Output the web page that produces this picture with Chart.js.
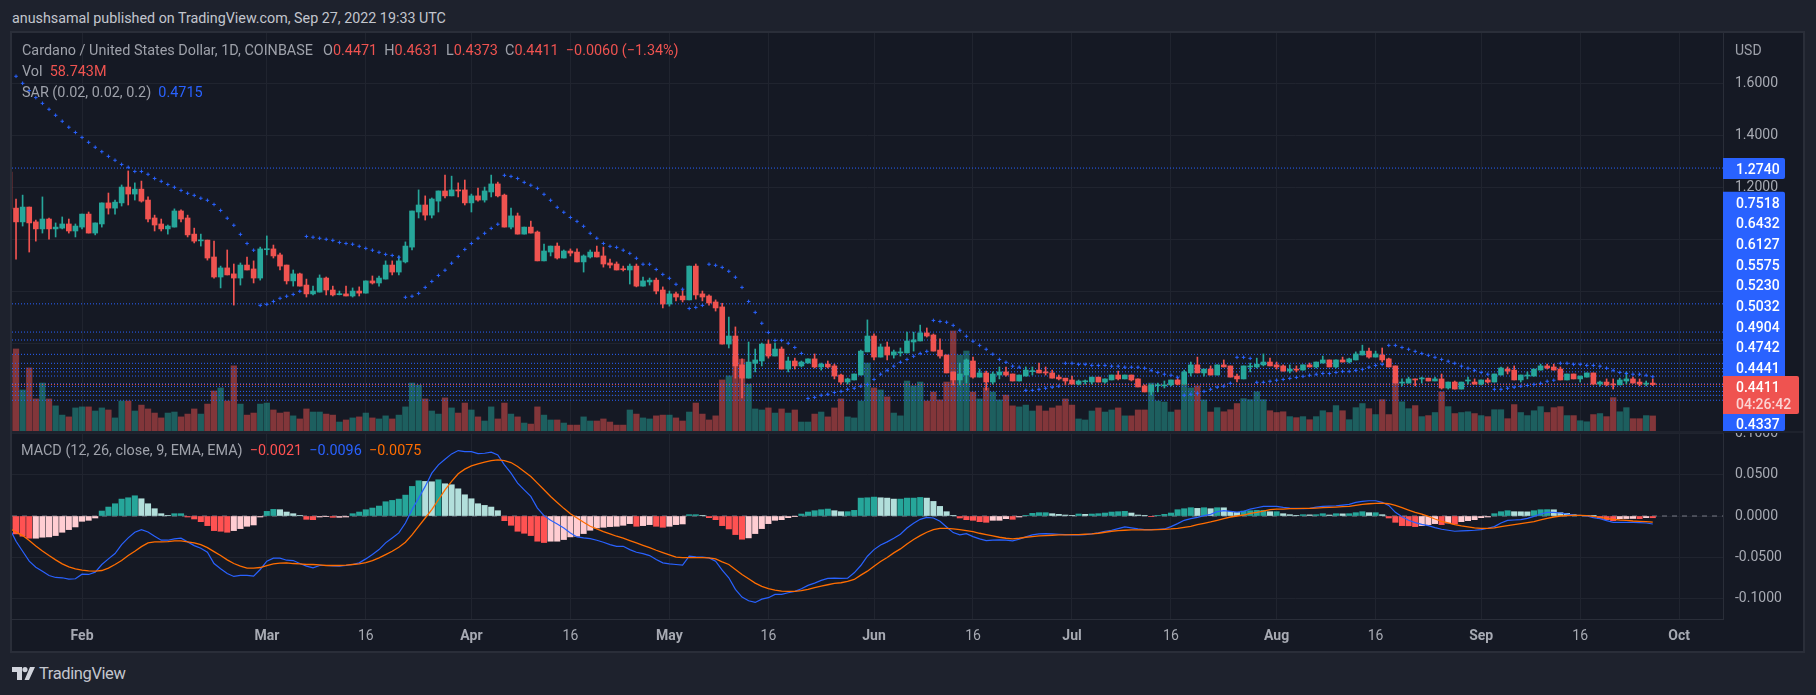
<!DOCTYPE html>
<html>
<head>
<meta charset="utf-8">
<title>Cardano / United States Dollar</title>
<script src="https://cdn.jsdelivr.net/npm/chart.js@4/dist/chart.umd.min.js"></script>
<style>
    html, body { margin: 0; padding: 0; width: 1816px; height: 695px; overflow: hidden; background: #1e222d; }
    body { font-family: Roboto, sans-serif; color: #b2b5be; position: relative; }
    .abs { position: absolute; white-space: nowrap; }
    .pane { position: absolute; left: 12px; width: 1792px; background: #151924; }
    canvas { display: block; }
    #frame { left: 10px; top: 31px; width: 1791px; height: 618px; border: 2px solid #2a2e39; }
    .legend { font-size: 14.4px; line-height: 16px; color: #9ea1aa; }
    .up { color: #ef5350; }
</style>
</head>
<body>
<div class="abs" style="left:12px;top:10px;font-size:14.3px;line-height:17px;color:#c3c6cd">anushsamal published on TradingView.com, Sep 27, 2022 19:33 UTC</div>
<div class="pane" style="top:33px;height:398px"><canvas id="priceChart" width="1792" height="398"></canvas></div>
<div class="pane" style="top:433px;height:219px"><canvas id="macdChart" width="1792" height="219"></canvas></div>
<div class="abs" id="frame"></div>

<div class="abs legend" style="left:22px;top:43px">Cardano / United States Dollar, 1D, COINBASE &nbsp;&thinsp;O<span class="up">0.4471</span> &nbsp;H<span class="up">0.4631</span> &nbsp;L<span class="up">0.4373</span> &nbsp;C<span class="up">0.4411</span> &nbsp;<span class="up">−0.0060 (−1.34%)</span></div>
<div class="abs legend" style="left:22px;top:64px">Vol &nbsp;<span class="up">58.743M</span></div>
<div class="abs legend" style="left:22px;top:85px">SAR (0.02, 0.02, 0.2) &nbsp;<span style="color:#2962ff">0.4715</span></div>
<div class="abs legend" style="left:21px;top:443px">MACD (12, 26, close, 9, EMA, EMA) &nbsp;<span style="color:#ff5252">−0.0021</span> &nbsp;<span style="color:#2962ff">−0.0096</span> &nbsp;<span style="color:#ff6d00">−0.0075</span></div>
<div class="abs" style="left:1735px;top:42px;font-size:14px;line-height:16px;color:#9ea1aa">USD</div>

<svg class="abs" style="left:12px;top:667px" width="24" height="13" viewBox="0 0 24 13">
    <path d="M0 0h10v13H5V5H0z M13 0a2.6 2.6 0 1 1 0 5.2a2.6 2.6 0 0 1 0-5.2z M17 13h-4.5L18 0h5z" fill="#d1d4dc"/>
</svg>
<div class="abs" style="left:39px;top:664px;font-size:16.5px;line-height:20px;color:#c3c6cd;letter-spacing:-0.4px">TradingView</div>

<script>
// 日线数据 Jan 21 - Sep 27
const opens = [
    1.259,1.120,1.067,1.124,1.067,1.040,1.078,1.040,1.043,1.059,
    1.032,1.047,1.097,1.024,1.059,1.140,1.120,1.140,1.201,1.174,
    1.193,1.151,1.082,1.059,1.040,1.047,1.109,1.082,1.020,0.994,
    0.997,0.932,0.855,0.890,0.867,0.851,0.901,0.886,0.851,0.960,
    0.963,0.940,0.901,0.840,0.867,0.824,0.790,0.797,0.851,0.805,
    0.787,0.790,0.782,0.801,0.793,0.840,0.832,0.847,0.901,0.874,
    0.913,0.970,1.105,1.132,1.093,1.147,1.186,1.167,1.190,1.190,
    1.140,1.167,1.151,1.182,1.213,1.170,1.047,1.090,1.020,1.047,
    1.028,0.917,0.951,0.974,0.928,0.955,0.951,0.913,0.932,0.951,
    0.936,0.909,0.905,0.886,0.882,0.897,0.820,0.836,0.843,0.805,
    0.751,0.790,0.782,0.767,0.897,0.790,0.782,0.759,0.740,0.597,
    0.628,0.517,0.466,0.523,0.532,0.597,0.551,0.578,0.501,0.532,
    0.513,0.524,0.540,0.509,0.520,0.513,0.478,0.451,0.459,0.478,
    0.567,0.628,0.547,0.586,0.555,0.563,0.563,0.605,0.609,0.640,
    0.632,0.574,0.555,0.490,0.459,0.478,0.532,0.470,0.486,0.451,
    0.478,0.490,0.482,0.455,0.474,0.491,0.497,0.490,0.486,0.470,
    0.466,0.459,0.443,0.452,0.451,0.470,0.451,0.459,0.478,0.463,
    0.478,0.463,0.436,0.413,0.437,0.436,0.440,0.459,0.443,0.486,
    0.517,0.486,0.501,0.478,0.517,0.513,0.474,0.463,0.509,0.509,
    0.517,0.528,0.517,0.513,0.493,0.501,0.497,0.517,0.509,0.524,
    0.536,0.509,0.536,0.528,0.536,0.555,0.570,0.547,0.555,0.540,
    0.513,0.447,0.447,0.463,0.463,0.466,0.455,0.463,0.428,0.451,
    0.424,0.455,0.451,0.443,0.459,0.451,0.478,0.501,0.497,0.459,
    0.474,0.474,0.497,0.513,0.509,0.501,0.459,0.482,0.463,0.470,
    0.486,0.443,0.451,0.443,0.440,0.455,0.463,0.451,0.443,0.4471
];
const highs = [
    1.259,1.155,1.170,1.124,1.074,1.163,1.082,1.063,1.086,1.078,
    1.059,1.097,1.105,1.063,1.140,1.178,1.151,1.209,1.263,1.217,
    1.224,1.163,1.093,1.078,1.055,1.117,1.113,1.093,1.043,1.020,
    0.997,0.993,0.897,0.959,0.905,0.909,0.932,0.917,0.970,1.013,
    0.978,0.947,0.901,0.882,0.870,0.847,0.820,0.863,0.855,0.820,
    0.801,0.820,0.813,0.817,0.840,0.859,0.859,0.917,0.917,0.936,
    0.990,1.109,1.190,1.167,1.159,1.186,1.247,1.243,1.217,1.228,
    1.174,1.197,1.201,1.247,1.220,1.174,1.120,1.101,1.047,1.070,
    1.032,0.982,0.974,0.986,0.959,0.963,0.963,0.940,0.959,0.974,
    0.970,0.924,0.913,0.897,0.905,0.905,0.855,0.851,0.851,0.817,
    0.801,0.797,0.805,0.897,0.905,0.801,0.786,0.767,0.754,0.701,
    0.663,0.540,0.605,0.578,0.601,0.613,0.601,0.586,0.547,0.543,
    0.532,0.540,0.559,0.524,0.532,0.520,0.482,0.466,0.482,0.574,
    0.690,0.636,0.597,0.605,0.574,0.582,0.643,0.643,0.670,0.659,
    0.636,0.617,0.555,0.490,0.524,0.540,0.547,0.501,0.493,0.490,
    0.509,0.509,0.482,0.478,0.509,0.509,0.524,0.509,0.497,0.478,
    0.466,0.474,0.459,0.459,0.470,0.470,0.463,0.478,0.493,0.478,
    0.478,0.463,0.440,0.440,0.447,0.455,0.459,0.466,0.497,0.528,
    0.547,0.501,0.513,0.517,0.536,0.513,0.482,0.513,0.524,0.543,
    0.559,0.543,0.528,0.517,0.517,0.513,0.517,0.524,0.528,0.551,
    0.536,0.536,0.547,0.543,0.567,0.593,0.582,0.570,0.582,0.543,
    0.513,0.463,0.470,0.463,0.470,0.466,0.470,0.482,0.451,0.455,
    0.451,0.470,0.463,0.459,0.466,0.482,0.509,0.509,0.513,0.478,
    0.490,0.501,0.520,0.520,0.520,0.509,0.482,0.482,0.474,0.486,
    0.486,0.455,0.463,0.463,0.466,0.490,0.470,0.463,0.455,0.4631
];
const lows = [
    1.117,0.924,1.051,0.951,0.993,1.024,1.001,1.009,1.040,1.024,
    1.009,1.040,1.024,1.017,1.047,1.097,1.097,1.128,1.132,1.151,
    1.143,1.067,1.032,1.032,1.020,1.047,1.067,1.009,0.986,0.974,
    0.920,0.851,0.813,0.863,0.747,0.824,0.882,0.832,0.843,0.940,
    0.928,0.882,0.828,0.820,0.820,0.778,0.786,0.797,0.786,0.782,
    0.786,0.782,0.778,0.782,0.793,0.828,0.820,0.847,0.863,0.863,
    0.909,0.959,1.082,1.074,1.082,1.105,1.159,1.167,1.163,1.132,
    1.105,1.147,1.143,1.163,1.163,1.047,1.040,1.020,1.020,1.024,
    0.917,0.917,0.936,0.924,0.928,0.936,0.913,0.874,0.928,0.932,
    0.893,0.890,0.882,0.878,0.828,0.817,0.820,0.824,0.790,0.736,
    0.743,0.763,0.759,0.767,0.770,0.763,0.747,0.724,0.597,0.582,
    0.466,0.390,0.466,0.490,0.513,0.543,0.551,0.501,0.490,0.501,
    0.509,0.524,0.505,0.497,0.505,0.463,0.443,0.443,0.459,0.478,
    0.567,0.536,0.547,0.536,0.543,0.551,0.563,0.570,0.609,0.624,
    0.570,0.543,0.486,0.440,0.440,0.447,0.466,0.470,0.420,0.443,
    0.463,0.474,0.455,0.455,0.474,0.478,0.486,0.478,0.466,0.459,
    0.440,0.443,0.440,0.443,0.443,0.451,0.447,0.459,0.459,0.463,
    0.455,0.432,0.413,0.401,0.413,0.428,0.436,0.440,0.443,0.474,
    0.486,0.474,0.478,0.478,0.509,0.470,0.451,0.463,0.490,0.505,
    0.513,0.513,0.501,0.493,0.486,0.490,0.497,0.509,0.505,0.524,
    0.509,0.505,0.528,0.524,0.536,0.555,0.543,0.547,0.528,0.509,
    0.447,0.436,0.447,0.436,0.447,0.455,0.455,0.424,0.424,0.424,
    0.424,0.443,0.443,0.440,0.447,0.451,0.478,0.482,0.459,0.451,
    0.463,0.474,0.497,0.501,0.497,0.459,0.459,0.463,0.451,0.470,
    0.440,0.436,0.436,0.424,0.440,0.443,0.447,0.436,0.436,0.4373
];
const closes = [
    1.117,1.067,1.124,1.063,1.040,1.078,1.040,1.047,1.059,1.032,
    1.051,1.097,1.024,1.063,1.140,1.120,1.143,1.201,1.174,1.193,
    1.147,1.078,1.055,1.040,1.051,1.109,1.078,1.017,0.993,0.997,
    0.928,0.855,0.890,0.863,0.851,0.901,0.882,0.851,0.963,0.963,
    0.936,0.897,0.840,0.867,0.820,0.790,0.801,0.851,0.805,0.786,
    0.790,0.782,0.801,0.793,0.840,0.832,0.851,0.901,0.874,0.917,
    0.974,1.109,1.132,1.093,1.155,1.186,1.167,1.190,1.186,1.140,
    1.167,1.151,1.186,1.213,1.167,1.047,1.090,1.020,1.047,1.024,
    0.917,0.955,0.974,0.928,0.955,0.947,0.913,0.936,0.951,0.932,
    0.905,0.901,0.882,0.883,0.897,0.820,0.840,0.843,0.801,0.751,
    0.790,0.778,0.767,0.897,0.786,0.778,0.755,0.736,0.597,0.628,
    0.513,0.466,0.528,0.536,0.597,0.551,0.578,0.501,0.532,0.513,
    0.528,0.540,0.509,0.520,0.509,0.474,0.451,0.463,0.482,0.570,
    0.628,0.547,0.586,0.555,0.567,0.567,0.609,0.613,0.640,0.628,
    0.570,0.551,0.486,0.459,0.482,0.536,0.470,0.486,0.451,0.482,
    0.490,0.478,0.455,0.478,0.497,0.493,0.486,0.486,0.466,0.463,
    0.455,0.443,0.455,0.455,0.470,0.451,0.463,0.478,0.463,0.478,
    0.459,0.432,0.413,0.440,0.440,0.440,0.459,0.443,0.490,0.517,
    0.486,0.501,0.478,0.517,0.509,0.470,0.463,0.513,0.513,0.520,
    0.528,0.513,0.509,0.493,0.501,0.497,0.517,0.509,0.528,0.536,
    0.509,0.536,0.528,0.540,0.559,0.570,0.547,0.559,0.536,0.509,
    0.447,0.451,0.463,0.459,0.466,0.455,0.463,0.428,0.451,0.424,
    0.451,0.459,0.443,0.459,0.451,0.482,0.505,0.493,0.459,0.478,
    0.478,0.501,0.513,0.505,0.497,0.459,0.482,0.463,0.474,0.486,
    0.443,0.451,0.440,0.440,0.459,0.463,0.447,0.443,0.447,0.4411
];
// 成交量 (百万)
const volumes = [
    300,320,160,246,125,187,125,98,62,55,
    90,94,94,78,90,82,51,117,117,78,
    101,86,70,51,70,74,55,66,86,66,
    105,156,168,117,254,105,62,70,105,109,
    82,70,74,59,47,86,74,74,66,62,
    35,43,51,55,70,51,47,59,47,62,
    94,187,179,125,78,66,129,90,70,109,
    82,55,39,94,47,109,66,55,31,27,
    94,62,43,43,31,23,23,55,39,39,
    47,35,23,23,82,66,51,47,59,62,
    62,51,39,74,109,66,43,59,199,215,
    290,280,183,86,82,90,70,86,70,82,
    35,35,66,74,55,90,125,55,51,117,
    265,168,160,133,70,59,195,176,191,117,
    152,121,191,390,296,312,152,125,168,152,
    121,140,98,94,101,78,98,78,90,98,
    125,101,47,43,78,90,74,82,90,59,
    59,82,82,187,117,113,74,82,183,168,
    176,121,74,91,75,83,107,126,122,153,
    122,79,72,75,56,52,56,44,56,79,
    72,99,79,44,91,107,87,64,122,64,
    200,114,87,99,56,60,72,153,95,68,
    72,75,68,60,56,83,83,48,103,72,
    60,79,95,72,91,95,60,60,40,36,
    64,68,56,130,75,91,48,48,60,58.743
];
const sar = [
    1.654,1.627,1.600,1.572,1.545,1.523,1.500,1.477,1.454,1.431,
    1.411,1.392,1.373,1.354,1.337,1.319,1.304,1.288,1.277,1.261,
    1.261,1.250,1.234,1.223,1.211,1.200,1.188,1.177,1.169,1.158,
    1.150,1.134,1.111,1.081,1.054,1.019,0.984,0.958,0.746,0.750,
    0.761,0.773,0.781,0.788,0.800,1.011,1.008,1.004,1.000,0.996,
    0.988,0.984,0.981,0.973,0.965,0.958,0.950,0.942,0.938,0.931,
    0.777,0.781,0.792,0.815,0.838,0.861,0.881,0.908,0.934,0.961,
    0.984,1.004,1.023,1.042,1.058,1.246,1.242,1.234,1.219,1.208,
    1.196,1.173,1.150,1.123,1.104,1.084,1.069,1.050,1.023,1.004,
    0.984,0.973,0.969,0.958,0.946,0.927,0.904,0.904,0.884,0.865,
    0.850,0.827,0.808,0.734,0.738,0.746,0.904,0.900,0.892,0.877,
    0.854,0.815,0.761,0.719,0.677,0.642,0.611,0.611,0.600,0.584,
    0.561,0.388,0.392,0.400,0.404,0.411,0.415,0.423,0.427,0.435,
    0.442,0.461,0.481,0.496,0.512,0.527,0.538,0.550,0.561,0.569,
    0.688,0.684,0.681,0.669,0.650,0.627,0.608,0.592,0.577,0.558,
    0.538,0.527,0.512,0.508,0.419,0.419,0.423,0.427,0.431,0.435,
    0.523,0.523,0.519,0.519,0.515,0.515,0.515,0.512,0.512,0.508,
    0.508,0.508,0.504,0.496,0.488,0.481,0.477,0.469,0.400,0.404,
    0.408,0.415,0.423,0.431,0.435,0.446,0.546,0.546,0.542,0.450,
    0.450,0.454,0.458,0.461,0.465,0.469,0.473,0.477,0.481,0.484,
    0.484,0.488,0.492,0.492,0.496,0.500,0.508,0.515,0.519,0.592,
    0.592,0.584,0.577,0.569,0.561,0.554,0.546,0.538,0.531,0.523,
    0.512,0.504,0.496,0.488,0.481,0.423,0.423,0.427,0.431,0.435,
    0.438,0.442,0.446,0.454,0.458,0.523,0.523,0.519,0.519,0.515,
    0.515,0.512,0.504,0.496,0.488,0.484,0.481,0.481,0.477,0.4715
];
const macdLine = [
    -.0144,-.0304,-.0425,-.0545,-.0617,-.0665,-.0717,-.0741,-.0745,-.0761,
    -.0757,-.0701,-.0705,-.0677,-.0585,-.0517,-.0453,-.0345,-.0264,-.0196,
    -.0164,-.0192,-.0244,-.0292,-.0292,-.0276,-.0268,-.0312,-.0357,-.0389,
    -.0437,-.0573,-.0637,-.0693,-.0729,-.0717,-.0717,-.0725,-.0645,-.0545,
    -.0509,-.0509,-.0533,-.0537,-.0573,-.0605,-.0625,-.0597,-.0597,-.0601,
    -.0605,-.0597,-.0585,-.0565,-.0517,-.0465,-.0405,-.0324,-.0264,-.0204,
    -.0084,.0076,.0216,.0357,.0517,.0617,.0685,.0749,.0789,.0777,
    .0777,.0753,.0757,.0769,.0737,.0617,.0517,.0397,.0316,.0236,
    .0096,.0004,-.0052,-.0096,-.0144,-.0204,-.0252,-.0264,-.0272,-.0292,
    -.0316,-.0345,-.0365,-.0365,-.0405,-.0437,-.0453,-.0477,-.0525,-.0565,
    -.0577,-.0585,-.0593,-.0485,-.0493,-.0497,-.0505,-.0545,-.0653,-.0745,
    -.0885,-.0977,-.1022,-.1042,-.1002,-.0985,-.0945,-.0945,-.0925,-.0909,
    -.0877,-.0837,-.0809,-.0777,-.0753,-.0749,-.0753,-.0749,-.0685,-.0597,
    -.0485,-.0405,-.0349,-.0312,-.0268,-.0220,-.0144,-.0088,-.0040,-.0016,
    -.0024,-.0064,-.0132,-.0200,-.0228,-.0212,-.0248,-.0276,-.0296,-.0292,
    -.0288,-.0292,-.0300,-.0280,-.0252,-.0228,-.0216,-.0212,-.0216,-.0220,
    -.0224,-.0228,-.0228,-.0224,-.0216,-.0204,-.0184,-.0172,-.0152,-.0132,
    -.0144,-.0156,-.0164,-.0164,-.0160,-.0156,-.0128,-.0092,-.0052,-.0032,
    -.0016,.0004,.0020,.0052,.0064,.0056,.0048,.0056,.0084,.0100,
    .0116,.0116,.0116,.0104,.0096,.0092,.0088,.0092,.0108,.0116,
    .0120,.0124,.0132,.0140,.0164,.0176,.0184,.0184,.0164,.0128,
    .0044,-.0008,-.0052,-.0080,-.0100,-.0116,-.0140,-.0160,-.0172,-.0184,
    -.0180,-.0176,-.0172,-.0164,-.0148,-.0128,-.0084,-.0052,-.0048,-.0044,
    -.0028,-.0004,.0024,.0044,.0044,.0036,.0024,.0012,.0008,0,
    -.0020,-.0032,-.0056,-.0076,-.0076,-.0076,-.0076,-.0080,-.0084,-.0096
];
const signalLine = [
    -.0148,-.0192,-.0236,-.0296,-.0361,-.0421,-.0477,-.0529,-.0577,-.0613,
    -.0637,-.0653,-.0661,-.0665,-.0657,-.0629,-.0585,-.0537,-.0477,-.0425,
    -.0369,-.0324,-.0312,-.0312,-.0308,-.0300,-.0300,-.0312,-.0324,-.0345,
    -.0381,-.0429,-.0477,-.0529,-.0573,-.0605,-.0629,-.0629,-.0621,-.0597,
    -.0577,-.0569,-.0565,-.0573,-.0577,-.0585,-.0585,-.0589,-.0597,-.0597,
    -.0597,-.0593,-.0585,-.0577,-.0561,-.0537,-.0505,-.0465,-.0425,-.0377,
    -.0316,-.0228,-.0124,-.0024,.0076,.0196,.0316,.0417,.0509,.0565,
    .0605,.0629,.0649,.0669,.0677,.0669,.0645,.0597,.0537,.0477,
    .0397,.0316,.0236,.0164,.0092,.0028,-.0024,-.0076,-.0124,-.0156,
    -.0188,-.0216,-.0244,-.0268,-.0296,-.0324,-.0353,-.0381,-.0413,-.0441,
    -.0469,-.0497,-.0501,-.0501,-.0501,-.0501,-.0505,-.0517,-.0553,-.0585,
    -.0645,-.0705,-.0757,-.0809,-.0849,-.0877,-.0893,-.0905,-.0909,-.0909,
    -.0901,-.0885,-.0865,-.0845,-.0829,-.0813,-.0805,-.0789,-.0765,-.0713,
    -.0665,-.0605,-.0549,-.0501,-.0445,-.0397,-.0337,-.0284,-.0236,-.0196,
    -.0164,-.0148,-.0148,-.0156,-.0164,-.0176,-.0188,-.0208,-.0224,-.0240,
    -.0256,-.0268,-.0276,-.0268,-.0256,-.0248,-.0240,-.0236,-.0232,-.0228,
    -.0228,-.0224,-.0224,-.0220,-.0216,-.0208,-.0196,-.0184,-.0176,-.0172,
    -.0168,-.0168,-.0168,-.0168,-.0164,-.0160,-.0156,-.0148,-.0136,-.0124,
    -.0104,-.0088,-.0072,-.0052,-.0032,-.0012,0,.0012,.0032,.0044,
    .0060,.0076,.0084,.0084,.0088,.0088,.0092,.0092,.0096,.0100,
    .0104,.0108,.0112,.0116,.0128,.0140,.0148,.0152,.0156,.0148,
    .0128,.0100,.0072,.0044,.0024,-.0004,-.0036,-.0064,-.0084,-.0104,
    -.0120,-.0132,-.0144,-.0148,-.0148,-.0144,-.0128,-.0116,-.0104,-.0092,
    -.0080,-.0068,-.0048,-.0028,-.0012,0,.0004,.0008,.0008,.0004,
    -.0004,-.0016,-.0028,-.0040,-.0048,-.0052,-.0060,-.0064,-.0068,-.0075
];
const histogram = [
    -.0156,-.0216,-.0244,-.0268,-.0268,-.0256,-.0252,-.0236,-.0196,-.0164,
    -.0132,-.0064,-.0052,-.0024,.0060,.0108,.0148,.0204,.0220,.0244,
    .0208,.0148,.0088,.0028,.0004,.0028,.0028,-.0012,-.0036,-.0068,
    -.0116,-.0176,-.0184,-.0196,-.0176,-.0152,-.0124,-.0108,-.0012,.0056,
    .0080,.0076,.0048,.0028,.0004,-.0040,-.0044,-.0012,-.0008,-.0016,
    -.0016,-.0012,.0028,.0048,.0076,.0096,.0120,.0172,.0188,.0204,
    .0252,.0357,.0425,.0417,.0413,.0437,.0389,.0377,.0328,.0256,
    .0208,.0148,.0128,.0108,.0064,-.0056,-.0112,-.0184,-.0208,-.0236,
    -.0304,-.0320,-.0304,-.0304,-.0284,-.0252,-.0244,-.0212,-.0172,-.0144,
    -.0136,-.0128,-.0124,-.0112,-.0092,-.0124,-.0116,-.0104,-.0124,-.0136,
    -.0124,-.0104,-.0096,.0016,.0016,.0004,-.0020,-.0044,-.0116,-.0156,
    -.0224,-.0280,-.0264,-.0212,-.0152,-.0092,-.0052,-.0044,-.0020,-.0004,
    .0024,.0048,.0064,.0076,.0084,.0064,.0052,.0052,.0068,.0216,
    .0220,.0228,.0220,.0216,.0204,.0204,.0216,.0216,.0224,.0216,
    .0176,.0116,.0052,.0004,-.0024,-.0044,-.0052,-.0068,-.0076,-.0052,
    -.0052,-.0032,-.0040,-.0012,.0008,.0032,.0040,.0040,.0028,.0020,
    .0012,.0008,.0024,.0020,.0024,.0028,.0036,.0048,.0052,.0056,
    .0036,.0012,.0004,-.0004,.0004,.0020,.0036,.0076,.0088,.0100,
    .0092,.0100,.0088,.0100,.0099,.0056,.0044,.0060,.0064,.0068,
    .0068,.0052,.0052,.0028,.0016,.0004,.0016,.0014,.0016,.0028,
    .0012,.0028,.0026,.0028,.0040,.0052,.0040,.0040,.0016,-.0024,
    -.0076,-.0116,-.0118,-.0128,-.0116,-.0104,-.0092,-.0104,-.0084,-.0096,
    -.0068,-.0056,-.0044,-.0020,-.0012,.0028,.0052,.0064,.0052,.0051,
    .0050,.0064,.0076,.0077,.0075,.0040,.0032,.0016,.0008,.0004,
    .0002,-.0028,-.0044,-.0056,-.0032,-.0031,-.0030,-.0032,-.0020,-.0021
];

// 时间轴，刻度用一年中的第几天
const tickDays = [32, 60, 75, 91, 106, 121, 136, 152, 167, 182, 197, 213, 228, 244, 259, 274];
const tickLabels = ['Feb', 'Mar', '16', 'Apr', '16', 'May', '16', 'Jun', '16', 'Jul', '16', 'Aug', '16', 'Sep', '16', 'Oct'];

// 水平点线
const levels = [1.274, 0.7518, 0.6432, 0.6127, 0.5575, 0.5230, 0.5032, 0.4904, 0.4742, 0.4441, 0.4337, 0.415, 0.400, 0.381];
const lastClose = 0.4411;
const stackedLabels = ['0.7518', '0.6432', '0.6127', '0.5575', '0.5230', '0.5032', '0.4904', '0.4742', '0.4441'];

const firstDay = 21;
const days = opens.map((_, i) => firstDay + i);
const xMin = 21.39, xMax = 280.64;

const UP = '#26a69a', DOWN = '#ef5350';
const FONT = 'Roboto, sans-serif';
const GRID = '#20242f', BORDER = '#2a2e39', TEXT = '#a7aab3';

Chart.defaults.font.family = FONT;
Chart.defaults.animation = false;

function candleColor(i, alpha) {
    const up = closes[i] >= opens[i];
    if (alpha) return up ? 'rgba(38,166,154,' + alpha + ')' : 'rgba(239,83,80,' + alpha + ')';
    return up ? UP : DOWN;
}

// MACD 柱状颜色：四种
function histColor(i) {
    const v = histogram[i], prev = i > 0 ? histogram[i - 1] : v;
    if (v >= 0) return v >= prev ? '#26a69a' : '#b2dfdb';
    return v < prev || i === 0 ? '#ff5252' : '#ffcdd2';
}

// 去掉标签撑出来的内边距，绘图区贴满画布
function noPadding(s) {
    s.paddingTop = s.paddingBottom = s.paddingLeft = s.paddingRight = 0;
}

function timeScale(showLabels) {
    return {
        type: 'linear',
        min: xMin,
        max: xMax,
        offset: false,
        grid: { color: GRID, offset: false, drawTicks: false },
        border: { display: showLabels, color: BORDER },
        afterBuildTicks: s => { s.ticks = tickDays.map(v => ({ value: v })); },
        afterFit: s => { s.height = showLabels ? 33 : 0; noPadding(s); },
        ticks: {
            display: showLabels,
            autoSkip: false,
            maxRotation: 0,
            padding: 9,
            color: TEXT,
            font: ctx => ({ size: 14, weight: isNaN(tickLabels[ctx.index]) ? 'bold' : 'normal' }),
            callback: v => tickLabels[tickDays.indexOf(v)]
        }
    };
}

function valueAxis(min, max, step) {
    return {
        position: 'right',
        min: min,
        max: max,
        grid: { color: GRID, drawTicks: false },
        border: { color: BORDER },
        afterFit: s => { s.width = 81; noPadding(s); },
        ticks: {
            stepSize: step,
            includeBounds: false,
            padding: 12,
            color: TEXT,
            font: { size: 14 },
            callback: v => v.toFixed(4)
        }
    };
}

function box(ctx, x, y, w, h, color) {
    ctx.fillStyle = color;
    ctx.beginPath();
    ctx.roundRect(x, y, w, h, [0, 2, 2, 0]);
    ctx.fill();
}

// 右侧价格标签
const priceTags = {
    id: 'priceTags',
    afterDraw(chart) {
        const ctx = chart.ctx;
        const x = chart.chartArea.right;
        const textX = x + 13;
        ctx.save();
        ctx.textAlign = 'left';
        ctx.textBaseline = 'middle';
        ctx.font = '500 14px ' + FONT;

        box(ctx, x, 125, 62, 21, '#2962ff');
        ctx.fillStyle = '#ffffff';
        ctx.fillText('1.2740', textX, 137);

        box(ctx, x, 158.7, 62, 186.3, '#2962ff');
        ctx.fillStyle = '#ffffff';
        stackedLabels.forEach((t, i) => ctx.fillText(t, textX, 171 + i * 20.7));

        box(ctx, x, 366, 62, 32, '#2962ff');
        ctx.fillStyle = '#ffffff';
        ctx.fillText('0.4337', textX, 392);

        box(ctx, x, 343, 76, 38, '#ef5350');
        ctx.fillStyle = '#ffffff';
        ctx.fillText(lastClose.toFixed(4), textX, 355);
        ctx.fillStyle = 'rgba(255,255,255,0.75)';
        ctx.fillText('04:26:42', textX, 372);
        ctx.restore();
    }
};

const levelSets = levels.map(v => ({
    type: 'line',
    data: [{ x: xMin, y: v }, { x: xMax, y: v }],
    borderColor: '#2962ff',
    borderWidth: 1,
    borderDash: [1, 2],
    pointRadius: 0,
    yAxisID: 'y',
    order: 5
}));

new Chart(document.getElementById('priceChart'), {
    type: 'bar',
    data: {
        datasets: [
            {
                data: days.map((d, i) => ({ x: d, y: volumes[i] })),
                backgroundColor: days.map((_, i) => candleColor(i, 0.5)),
                barThickness: 5.6,
                grouped: false,
                yAxisID: 'vol',
                order: 6
            },
            ...levelSets,
            {
                type: 'line',
                data: [{ x: xMin, y: lastClose }, { x: xMax, y: lastClose }],
                borderColor: DOWN,
                borderWidth: 1,
                borderDash: [1, 2],
                pointRadius: 0,
                yAxisID: 'y',
                order: 4
            },
            {
                data: days.map((d, i) => ({ x: d, y: [lows[i], highs[i]] })),
                backgroundColor: days.map((_, i) => candleColor(i)),
                barThickness: 1,
                grouped: false,
                yAxisID: 'y',
                order: 3
            },
            {
                data: days.map((d, i) => ({ x: d, y: [opens[i], closes[i]] })),
                backgroundColor: days.map((_, i) => candleColor(i)),
                barThickness: 5,
                minBarLength: 1,
                grouped: false,
                yAxisID: 'y',
                order: 2
            },
            {
                type: 'line',
                data: days.map((d, i) => ({ x: d, y: sar[i] })),
                showLine: false,
                pointStyle: 'cross',
                pointRadius: 1.8,
                pointBorderWidth: 1,
                pointBorderColor: '#2962ff',
                pointBackgroundColor: '#2962ff',
                yAxisID: 'y',
                order: 1
            }
        ]
    },
    options: {
        responsive: false,
        layout: { padding: 0, autoPadding: false },
        plugins: { legend: { display: false }, tooltip: { enabled: false } },
        scales: {
            x: timeScale(false),
            y: valueAxis(0.2627, 1.7935, 0.2),
            vol: { display: false, min: 0, max: 1552 }
        }
    },
    plugins: [priceTags]
});

new Chart(document.getElementById('macdChart'), {
    type: 'bar',
    data: {
        datasets: [
            {
                type: 'line',
                data: [{ x: xMin, y: 0 }, { x: xMax, y: 0 }],
                borderColor: '#787b86',
                borderWidth: 1,
                borderDash: [5, 5],
                pointRadius: 0,
                order: 4
            },
            {
                data: days.map((d, i) => ({ x: d, y: histogram[i] })),
                backgroundColor: days.map((_, i) => histColor(i)),
                barThickness: 5.4,
                grouped: false,
                order: 3
            },
            {
                type: 'line',
                data: days.map((d, i) => ({ x: d, y: macdLine[i] })),
                borderColor: '#2962ff',
                borderWidth: 1.2,
                pointRadius: 0,
                order: 2
            },
            {
                type: 'line',
                data: days.map((d, i) => ({ x: d, y: signalLine[i] })),
                borderColor: '#ff6d00',
                borderWidth: 1.3,
                pointRadius: 0,
                order: 1
            }
        ]
    },
    options: {
        responsive: false,
        layout: { padding: 0, autoPadding: false },
        plugins: { legend: { display: false }, tooltip: { enabled: false } },
        scales: {
            x: timeScale(true),
            y: valueAxis(-0.1242, 0.1001, 0.05)
        }
    }
});
</script>
</body>
</html>
